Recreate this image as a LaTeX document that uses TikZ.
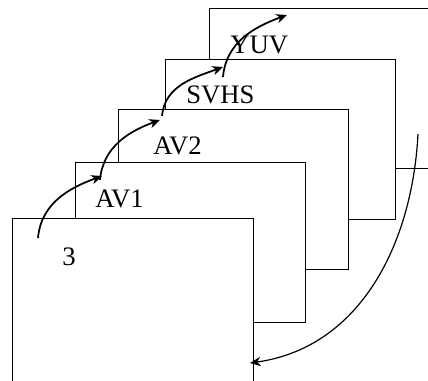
\documentclass[tikz,border=0pt]{standalone}
\usepackage{fontspec}
\setmainfont{Liberation Serif}
\usetikzlibrary{arrows.meta}

\begin{document}
\begin{tikzpicture}[
  x=0.75pt, y=0.75pt,
  >={Stealth[length=8pt, width=7pt, inset=2.5pt]},
  font=\fontsize{20}{24}\selectfont,
  %% Node styles
  frame/.style={
    draw, fill=white, line width=1pt,
    anchor=north west, inner sep=0pt,
    minimum width=172.5pt, minimum height=120pt
  },
  label/.style={anchor=base west, inner sep=0pt},
  %% Connector styles
  hop/.style={->, line width=1.3pt},
  back/.style={->, line width=0.9pt},
]

\useasboundingbox (0,0) rectangle (428,-380);
\clip (0,0) rectangle (428,-380);

%% ── FRAMES (back to front) ────────────────────────────────────────────────
\node[frame] (yuv)  at (209,-8)   {};
\node[frame] (svhs) at (165,-59)  {};
\node[frame] (av2)  at (118,-109) {};
\node[frame] (av1)  at (75,-162)  {};
\node[frame, minimum width=180.75pt, minimum height=200pt] (ch3) at (12,-218) {};

%% ── LABELS ────────────────────────────────────────────────────────────────
\node[label] (lyuv)  at (230,-53)  {YUV};
\node[label] (lsvhs) at (186,-103) {SVHS};
\node[label] (lav2)  at (153,-154) {AV2};
\node[label] (lav1)  at (95,-207)  {AV1};
\node[label] (lch3)  at (62,-265)  {3};

%% ── HOP POINTS ────────────────────────────────────────────────────────────
\coordinate (s0) at (38,-238);
\coordinate (t0) at (102,-176);
\coordinate (s1) at (100,-180);
\coordinate (t1) at (160,-120);
\coordinate (s2) at (162,-116);
\coordinate (t2) at (223,-67);
\coordinate (s3) at (223,-77);
\coordinate (t3) at (287,-15);
\coordinate (r0) at (418,-134);
\coordinate (r1) at (250,-363);

%% Forward hops
\draw[hop] (s0) to[out=85, in=200] (t0);
\draw[hop] (s1) to[out=85, in=200] (t1);
\draw[hop] (s2) to[out=85, in=200] (t2);
\draw[hop] (s3) to[out=85, in=200] (t3);

%% Wrap back to the front
\draw[back] (r0) to[out=-93, in=8] (r1);

\end{tikzpicture}
\end{document}
